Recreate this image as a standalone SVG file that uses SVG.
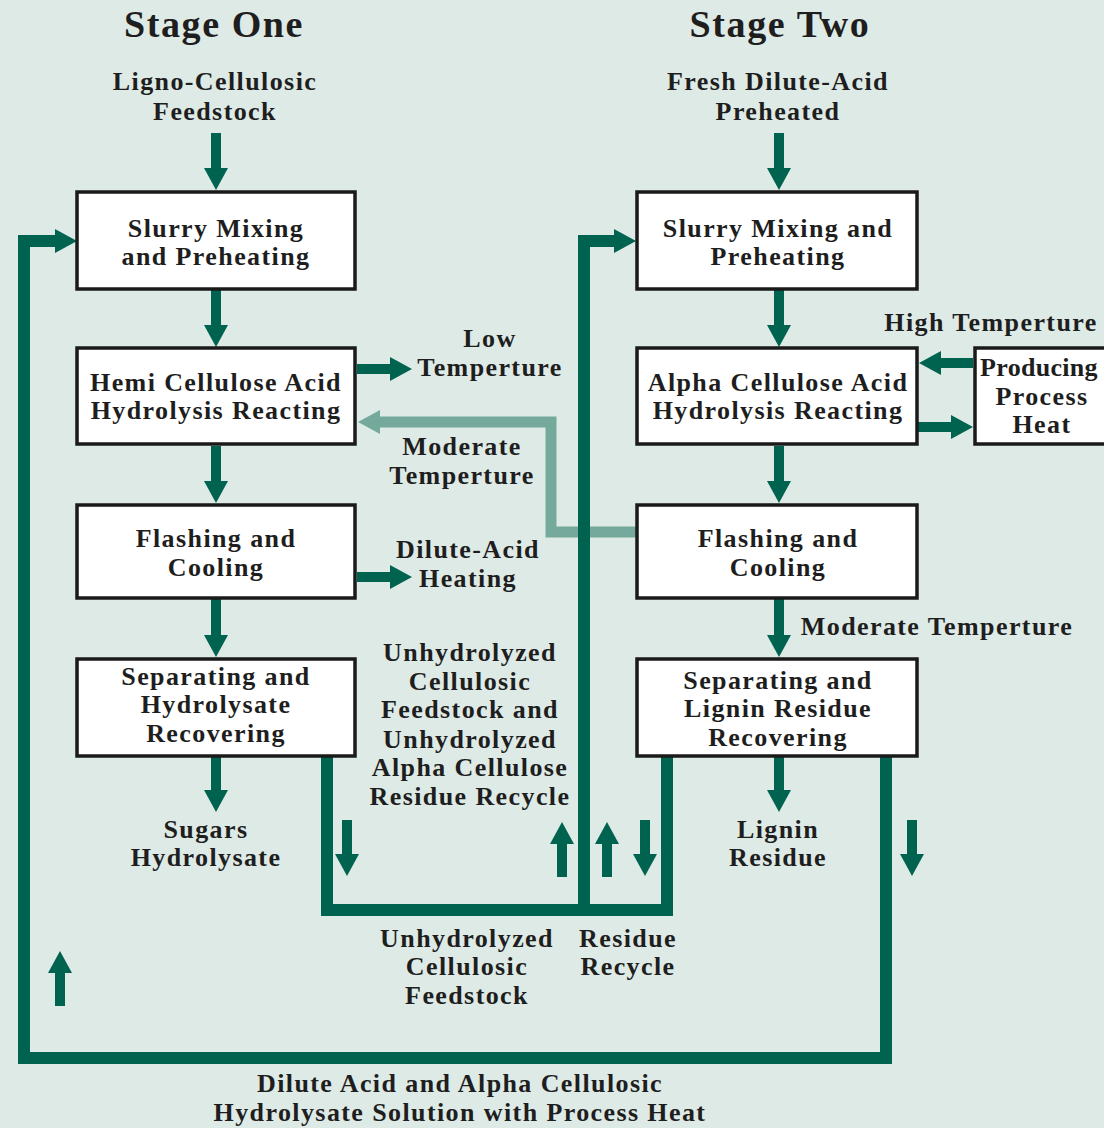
<svg xmlns="http://www.w3.org/2000/svg" width="1104" height="1128" viewBox="0 0 1104 1128">
<defs>
<style>
text{font-family:"Liberation Serif","Times New Roman",serif;font-weight:bold;fill:#1e1e1e;text-anchor:middle;font-size:26px;letter-spacing:1.4px}
.title{font-size:38px;letter-spacing:1.6px}
.tight{letter-spacing:0.3px}
.box{fill:#fff;stroke:#1a1a1a;stroke-width:3.5}
.flow{fill:none;stroke:#006350;stroke-width:10;marker-end:url(#ah)}
.loop{fill:none;stroke:#006350;stroke-width:12;stroke-linejoin:miter}
.mod{fill:none;stroke:#74a99c;stroke-width:11;stroke-linejoin:miter;marker-end:url(#ahl)}
</style>
<marker id="ah" markerUnits="userSpaceOnUse" viewBox="0 0 22 24" markerWidth="22" markerHeight="24" refX="1" refY="12" orient="auto"><path d="M0,0 L22,12 L0,24 Z" fill="#006350"/></marker>
<marker id="ahl" markerUnits="userSpaceOnUse" viewBox="0 0 22 24" markerWidth="22" markerHeight="24" refX="1" refY="12" orient="auto"><path d="M0,0 L22,12 L0,24 Z" fill="#74a99c"/></marker>
</defs>
<rect x="0" y="0" width="1104" height="1128" fill="#deeae6"/>

<g id="connectors">
<path class="mod" d="M637,532 H551 V422 H379"/>
<path class="loop" d="M886,756 V1058 H24 V241 H56"/>
<path class="flow" d="M54,241 H56" />
<path class="loop" d="M327,756 V910 H667 V756"/>
<path class="loop" d="M584,910 V241 H614"/>
<path class="flow" d="M612,241 H615"/>
<path class="flow" d="M216,133 V169"/>
<path class="flow" d="M216,290 V326"/>
<path class="flow" d="M216,446 V482"/>
<path class="flow" d="M216,599 V636"/>
<path class="flow" d="M216,757 V791"/>
<path class="flow" d="M779,133 V169"/>
<path class="flow" d="M779,290 V326"/>
<path class="flow" d="M779,446 V482"/>
<path class="flow" d="M779,599 V636"/>
<path class="flow" d="M779,757 V791"/>
<path class="flow" d="M357,369 H391"/>
<path class="flow" d="M357,577 H391"/>
<path class="flow" d="M973,363 H940"/>
<path class="flow" d="M918,427 H952"/>
<path class="flow" d="M347,820 V855"/>
<path class="flow" d="M562,877 V843"/>
<path class="flow" d="M607,877 V843"/>
<path class="flow" d="M645,820 V855"/>
<path class="flow" d="M912,820 V855"/>
<path class="flow" d="M60,1006 V972"/>
</g>

<g id="labels">
<text class="title" x="214" y="37">Stage One</text>
<text class="title" x="780" y="37">Stage Two</text>
<text x="215" y="90">Ligno-Cellulosic</text>
<text x="215" y="120">Feedstock</text>
<text x="778" y="90">Fresh Dilute-Acid</text>
<text x="778" y="120">Preheated</text>
<text x="991" y="331">High Temperture</text>
<text x="490" y="347">Low</text>
<text x="490" y="376">Temperture</text>
<text x="462" y="455">Moderate</text>
<text x="462" y="484">Temperture</text>
<text x="468" y="558">Dilute-Acid</text>
<text x="468" y="587">Heating</text>
<text x="937" y="635">Moderate Temperture</text>
<text x="470" y="661">Unhydrolyzed</text>
<text x="470" y="690">Cellulosic</text>
<text x="470" y="718">Feedstock and</text>
<text x="470" y="748">Unhydrolyzed</text>
<text x="470" y="776">Alpha Cellulose</text>
<text x="470" y="805">Residue Recycle</text>
<text x="206" y="838">Sugars</text>
<text x="206" y="866">Hydrolysate</text>
<text x="778" y="838">Lignin</text>
<text x="778" y="866">Residue</text>
<text x="467" y="947">Unhydrolyzed</text>
<text x="467" y="975">Cellulosic</text>
<text x="467" y="1004">Feedstock</text>
<text x="628" y="947">Residue</text>
<text x="628" y="975">Recycle</text>
<text x="460" y="1092">Dilute Acid and Alpha Cellulosic</text>
<text x="460" y="1121">Hydrolysate Solution with Process Heat</text>
</g>

<g id="s1-slurry"><rect class="box" x="77" y="192" width="278" height="97"/><text x="216" y="237">Slurry Mixing</text><text x="216" y="265">and Preheating</text></g>
<g id="s1-hemi"><rect class="box" x="77" y="348" width="278" height="96"/><text x="216" y="391">Hemi Cellulose Acid</text><text x="216" y="419">Hydrolysis Reacting</text></g>
<g id="s1-flash"><rect class="box" x="77" y="505" width="278" height="93"/><text x="216" y="547">Flashing and</text><text x="216" y="576">Cooling</text></g>
<g id="s1-sep"><rect class="box" x="77" y="659" width="278" height="97"/><text x="216" y="685">Separating and</text><text x="216" y="713">Hydrolysate</text><text x="216" y="742">Recovering</text></g>

<g id="s2-slurry"><rect class="box" x="637" y="192" width="280" height="97"/><text x="778" y="237">Slurry Mixing and</text><text x="778" y="265">Preheating</text></g>
<g id="s2-alpha"><rect class="box" x="637" y="348" width="280" height="96"/><text x="778" y="391">Alpha Cellulose Acid</text><text x="778" y="419">Hydrolysis Reacting</text></g>
<g id="s2-flash"><rect class="box" x="637" y="505" width="280" height="93"/><text x="778" y="547">Flashing and</text><text x="778" y="576">Cooling</text></g>
<g id="s2-sep"><rect class="box" x="637" y="659" width="280" height="97"/><text x="778" y="689">Separating and</text><text x="778" y="717">Lignin Residue</text><text x="778" y="746">Recovering</text></g>
<g id="heat"><rect class="box" x="975" y="348" width="140" height="96"/><text class="tight" x="1039" y="376">Producing</text><text x="1042" y="405">Process</text><text x="1042" y="433">Heat</text></g>
</svg>
